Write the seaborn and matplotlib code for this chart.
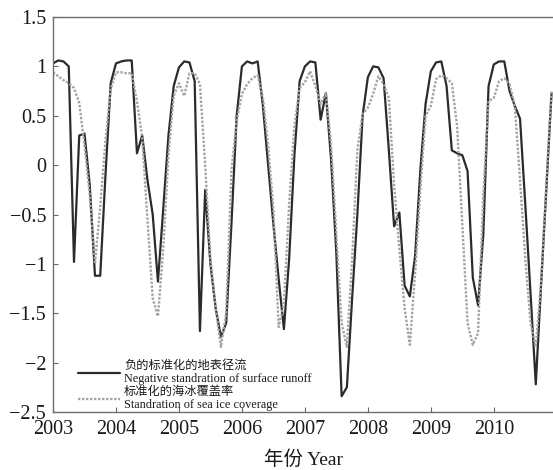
import numpy as np
import pandas as pd
import matplotlib
matplotlib.use("Agg")
import matplotlib.pyplot as plt
import seaborn as sns

# ---- data (monthly, Jan 2003 - Dec 2010) ----
years = list(range(2003, 2011))
runoff_neg = [
    1.03, 1.06, 1.05, 1.00, -0.98, 0.30, 0.32, -0.20, -1.12, -1.12, -0.10, 0.83,   # 2003
    1.03, 1.05, 1.06, 1.06, 0.12, 0.30, -0.15, -0.50, -1.18, -0.45, 0.30, 0.80,    # 2004
    0.99, 1.05, 1.04, 0.85, -1.68, -0.25, -1.00, -1.45, -1.74, -1.60, -0.60, 0.50, # 2005
    1.00, 1.05, 1.03, 1.05, 0.60, 0.00, -0.60, -1.15, -1.66, -0.95, 0.10, 0.85,    # 2006
    1.00, 1.05, 1.04, 0.46, 0.73, 0.05, -0.90, -2.34, -2.25, -1.35, -0.50, 0.50,   # 2007
    0.89, 1.00, 0.99, 0.88, 0.15, -0.62, -0.48, -1.22, -1.33, -0.92, -0.05, 0.62,  # 2008
    0.95, 1.04, 1.05, 0.80, 0.15, 0.12, 0.10, -0.06, -1.14, -1.42, -0.70, 0.80,    # 2009
    1.02, 1.05, 1.05, 0.75, 0.60, 0.47, -0.40, -1.30, -2.22, -1.22, -0.25, 0.73,   # 2010
]
sea_ice = [
    0.94, 0.90, 0.86, 0.83, 0.78, 0.63, 0.20, -0.30, -1.00, -0.42, 0.25, 0.77,     # 2003
    0.94, 0.94, 0.93, 0.93, 0.65, 0.28, -0.55, -1.35, -1.53, -0.85, 0.10, 0.70,    # 2004
    0.83, 0.70, 0.93, 0.93, 0.82, 0.00, -0.95, -1.45, -1.84, -1.50, -0.05, 0.45,   # 2005
    0.72, 0.82, 0.88, 0.91, 0.68, 0.20, -0.45, -1.64, -1.40, -0.40, 0.40, 0.78,    # 2006
    0.84, 0.95, 0.80, 0.62, 0.73, 0.20, -0.70, -1.60, -1.84, -0.95, 0.15, 0.52,    # 2007
    0.58, 0.72, 0.90, 0.82, 0.68, -0.20, -0.85, -1.45, -1.82, -1.10, -0.25, 0.50,  # 2008
    0.60, 0.87, 0.91, 0.88, 0.83, 0.40, -0.60, -1.60, -1.82, -1.70, -0.30, 0.65,   # 2009
    0.68, 0.85, 0.88, 0.82, 0.60, -0.15, -0.95, -1.60, -1.84, -1.20, -0.20, 0.76,  # 2010
]
ytick_vals = [1.5, 1, 0.5, 0, -0.5, -1, -1.5, -2, -2.5]
xtick_labels = [str(y) for y in years]
label_runoff = "负的标准化的地表径流\nNegative standration of surface runoff"
label_ice = "标准化的海冰覆盖率\nStandration of sea ice coverage"
xlabel_text = "年份 Year"

yr = np.repeat(years, 12)
mo = np.tile(np.arange(12), len(years))
t = yr + mo / 12.0
df = pd.DataFrame({"t": t, "runoff": runoff_neg, "ice": sea_ice})

# ---- style ----
sns.set_style("ticks")
fonts = ["Liberation Serif", "Noto Sans CJK SC", "DejaVu Sans"]
plt.rcParams["font.family"] = fonts

fig = plt.figure(figsize=(5.53, 4.70), dpi=100)
fig.patch.set_facecolor("white")
ax = fig.add_axes([53 / 553, 58 / 470, 500 / 553, 395 / 470])

sns.lineplot(data=df, x="t", y="runoff", ax=ax, color="#2b2b2b", lw=1.6,
             label=label_runoff)
sns.lineplot(data=df, x="t", y="ice", ax=ax, color="#a3a3a3", lw=1.7,
             linestyle=(0, (1.0, 0.7)), label=label_ice)

ax.set_xlim(2003, 2010.94)
ax.set_ylim(-2.5, 1.5)
ax.set_xticks(years)
ax.set_xticklabels(xtick_labels)
ax.set_yticks(ytick_vals)
ax.set_yticklabels([f"{v:g}".replace("-", "\u2212") for v in ytick_vals])
ax.tick_params(axis="both", direction="in", length=3.5, width=0.8,
               color="#666666", labelsize=14.5, labelcolor="#1a1a1a")
ax.tick_params(axis="x", pad=6)
ax.tick_params(axis="y", pad=5)
ax.set_xlabel("")
ax.set_ylabel("")

for s in ["left", "bottom", "top"]:
    ax.spines[s].set_visible(True)
    ax.spines[s].set_color("#6e6e6e")
    ax.spines[s].set_linewidth(1.0)
ax.spines["right"].set_visible(False)

leg = ax.legend(loc="lower left", bbox_to_anchor=(0.048, 0.0),
                frameon=False, fontsize=8.8, handlelength=3.5,
                handletextpad=0.3, labelspacing=0.1, borderpad=0.0,
                borderaxespad=0.05)
for txt in leg.get_texts():
    txt.set_color("#1a1a1a")
    txt.set_linespacing(1.12)

fig.text(303 / 553, 1 - 460 / 470, xlabel_text, ha="center", va="center",
         fontsize=14, color="#1a1a1a", family=fonts)

fig.savefig("out.png", dpi=100, facecolor="white")
